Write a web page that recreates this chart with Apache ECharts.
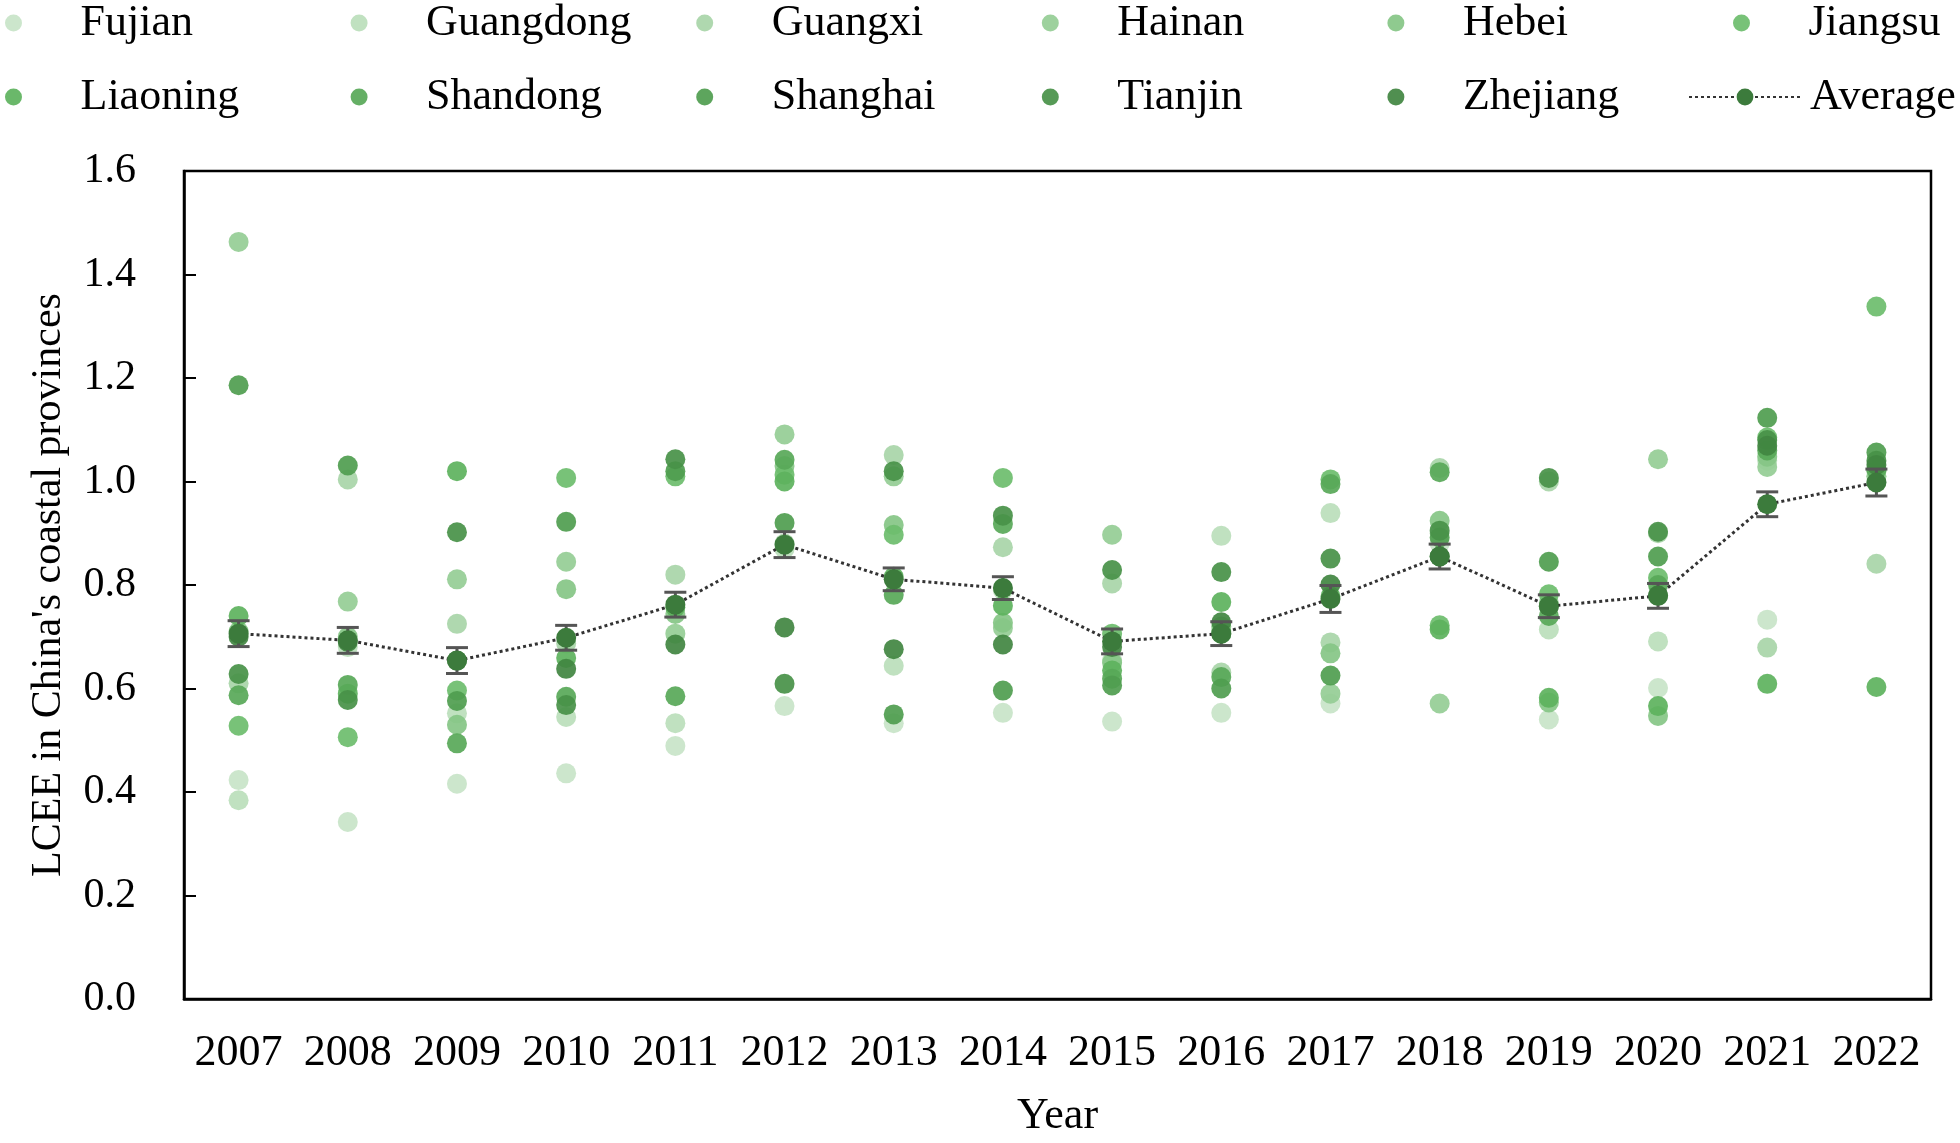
<!DOCTYPE html>
<html>
<head>
<meta charset="utf-8">
<script src="https://cdn.jsdelivr.net/npm/echarts@6/dist/echarts.min.js"></script>
<style>
  html, body { margin: 0; padding: 0; background: #fff; }
  #chart { width: 1960px; height: 1143px; }
</style>
</head>
<body>
<div id="chart"></div>
<script>
// years on the x axis
const years = ['2007', '2008', '2009', '2010', '2011', '2012', '2013', '2014',
  '2015', '2016', '2017', '2018', '2019', '2020', '2021', '2022'];

// LCEE per province
const fujian    = [0.423, 0.342, 0.416, 0.436, 0.489, 0.566, 0.533, 0.553, 0.536, 0.553, 0.571, 0.880, 0.540, 0.601, 0.733, 1.010];
const guangdong = [0.384, 0.680, 0.552, 0.545, 0.533, 0.870, 0.644, 0.790, 0.654, 0.895, 0.939, 0.900, 0.714, 0.691, 1.040, 0.999];
const guangxi   = [0.610, 1.004, 0.725, 0.687, 0.820, 0.880, 1.051, 0.873, 0.803, 0.631, 0.689, 1.026, 1.000, 0.900, 0.679, 0.841];
const hainan    = [1.463, 0.768, 0.811, 0.845, 0.706, 1.091, 1.010, 0.717, 0.897, 0.710, 0.590, 0.571, 0.765, 1.043, 1.028, 1.010];
const hebei     = [0.710, 0.700, 0.530, 0.792, 0.744, 1.030, 0.916, 0.727, 0.650, 0.720, 0.668, 0.924, 0.573, 0.547, 1.048, 1.020];
const jiangsu   = [0.528, 0.506, 0.596, 1.007, 1.010, 1.013, 0.897, 1.007, 0.706, 0.706, 1.004, 0.722, 0.782, 0.814, 1.085, 1.338];
const liaoning  = [0.740, 0.590, 1.020, 0.659, 0.757, 1.000, 0.816, 0.760, 0.635, 0.767, 0.778, 0.714, 0.582, 0.566, 0.609, 0.603];
const shandong  = [0.587, 0.607, 0.494, 0.584, 0.585, 1.042, 0.781, 0.918, 0.619, 0.622, 0.995, 1.018, 0.740, 0.800, 1.060, 1.023];
const shanghai  = [1.186, 1.031, 0.576, 0.922, 1.020, 0.920, 0.550, 0.596, 0.606, 0.600, 0.625, 0.892, 0.845, 0.855, 1.123, 1.056];
const tianjin   = [0.628, 0.578, 0.902, 0.568, 1.043, 0.609, 1.020, 0.934, 0.829, 0.825, 0.851, 0.905, 1.007, 0.903, 1.080, 1.040];
const zhejiang  = [0.700, 0.690, 0.654, 0.638, 0.685, 0.718, 0.676, 0.685, 0.680, 0.728, 0.801, 0.855, 0.760, 0.780, 1.069, 1.032];

// yearly average and its error bar half-width
const average = [0.706, 0.693, 0.654, 0.698, 0.762, 0.878, 0.811, 0.794, 0.691, 0.706, 0.773, 0.855, 0.759, 0.779, 0.956, 0.998];
const avgErr  = [0.025, 0.025, 0.025, 0.024, 0.024, 0.025, 0.022, 0.022, 0.024, 0.023, 0.026, 0.024, 0.022, 0.024, 0.024, 0.026];

const yTicks = ['0.0', '0.2', '0.4', '0.6', '0.8', '1.0', '1.2', '1.4', '1.6'];

const provinces = [
  ['Fujian', fujian, '#c8e4c8'],
  ['Guangdong', guangdong, '#bbdebb'],
  ['Guangxi', guangxi, '#a8d5a8'],
  ['Hainan', hainan, '#95cd95'],
  ['Hebei', hebei, '#85c585'],
  ['Jiangsu', jiangsu, '#6cbd6c'],
  ['Liaoning', liaoning, '#5db25d'],
  ['Shandong', shandong, '#58a858'],
  ['Shanghai', shanghai, '#4f9d4f'],
  ['Tianjin', tianjin, '#489148'],
  ['Zhejiang', zhejiang, '#418641']
];

const font = "'Liberation Serif', 'Times New Roman', serif";
const chart = echarts.init(document.getElementById('chart'));

// one legend per cell so the columns line up like the original
const legendNames = provinces.map(p => p[0]).concat(['Average']);
const legends = legendNames.map((name, i) => {
  const isAvg = name === 'Average';
  return {
    data: [name],
    left: isAvg ? 1688 : 5 + 345.6 * (i % 6),
    top: i < 6 ? 1 : 75,
    padding: 0,
    orient: 'horizontal',
    itemWidth: isAvg ? 112 : 30,
    itemHeight: isAvg ? 21 : 17,
    selectedMode: false,
    textStyle: {
      fontFamily: font, fontSize: 44, lineHeight: 34, color: '#000',
      padding: [0, 0, 0, isAvg ? 4 : 47]
    }
  };
});

const series = provinces.map(([name, vals, color]) => ({
  name: name,
  type: 'scatter',
  data: vals,
  symbol: 'circle',
  symbolSize: 20,
  itemStyle: { color: color, opacity: 0.92 },
  emphasis: { disabled: true },
  z: 2
}));

series.push({
  name: 'Error',
  type: 'custom',
  data: average.map((v, i) => [i, v - avgErr[i], v + avgErr[i]]),
  renderItem: function (params, api) {
    const top = api.coord([api.value(0), api.value(2)]);
    const bot = api.coord([api.value(0), api.value(1)]);
    const half = 11;
    const style = { stroke: '#555', lineWidth: 3 };
    return {
      type: 'group',
      children: [
        { type: 'line', shape: { x1: top[0], y1: top[1], x2: bot[0], y2: bot[1] }, style: style },
        { type: 'line', shape: { x1: top[0] - half, y1: top[1], x2: top[0] + half, y2: top[1] }, style: style },
        { type: 'line', shape: { x1: bot[0] - half, y1: bot[1], x2: bot[0] + half, y2: bot[1] }, style: style }
      ]
    };
  },
  z: 3
});

series.push({
  name: 'Average',
  type: 'line',
  data: average,
  symbol: 'circle',
  symbolSize: 20,
  itemStyle: { color: '#3c7b3c' },
  lineStyle: { color: '#333', width: 3, type: [3, 3] },
  emphasis: { disabled: true },
  z: 4
});

chart.setOption({
  animation: false,
  backgroundColor: '#fff',
  legend: legends,
  grid: {
    left: 184, right: 29, top: 171, bottom: 134,
    show: true, borderColor: '#000', borderWidth: 2.5, backgroundColor: 'transparent'
  },
  xAxis: {
    type: 'category',
    data: years,
    boundaryGap: true,
    name: 'Year',
    nameLocation: 'middle',
    nameGap: 95,
    nameTextStyle: { fontFamily: font, fontSize: 44, color: '#000' },
    axisLine: { lineStyle: { color: '#000', width: 2.5 } },
    axisTick: { inside: true, alignWithLabel: true, length: 10, lineStyle: { color: '#000', width: 2 } },
    axisLabel: { fontFamily: font, fontSize: 44, color: '#000', margin: 32, interval: 0 },
    splitLine: { show: false }
  },
  yAxis: {
    type: 'value',
    min: 0,
    max: 1.6,
    interval: 0.2,
    name: "LCEE in China's coastal provinces",
    nameLocation: 'middle',
    nameGap: 114,
    nameTextStyle: { fontFamily: font, fontSize: 42, color: '#000' },
    axisLine: { show: true, lineStyle: { color: '#000', width: 2.5 } },
    axisTick: { show: true, inside: true, length: 12, lineStyle: { color: '#000', width: 2 } },
    axisLabel: {
      fontFamily: font, fontSize: 42, color: '#000', margin: 48,
      formatter: v => yTicks[Math.round(v / 0.2)]
    },
    splitLine: { show: false }
  },
  series: series
});
</script>
</body>
</html>
